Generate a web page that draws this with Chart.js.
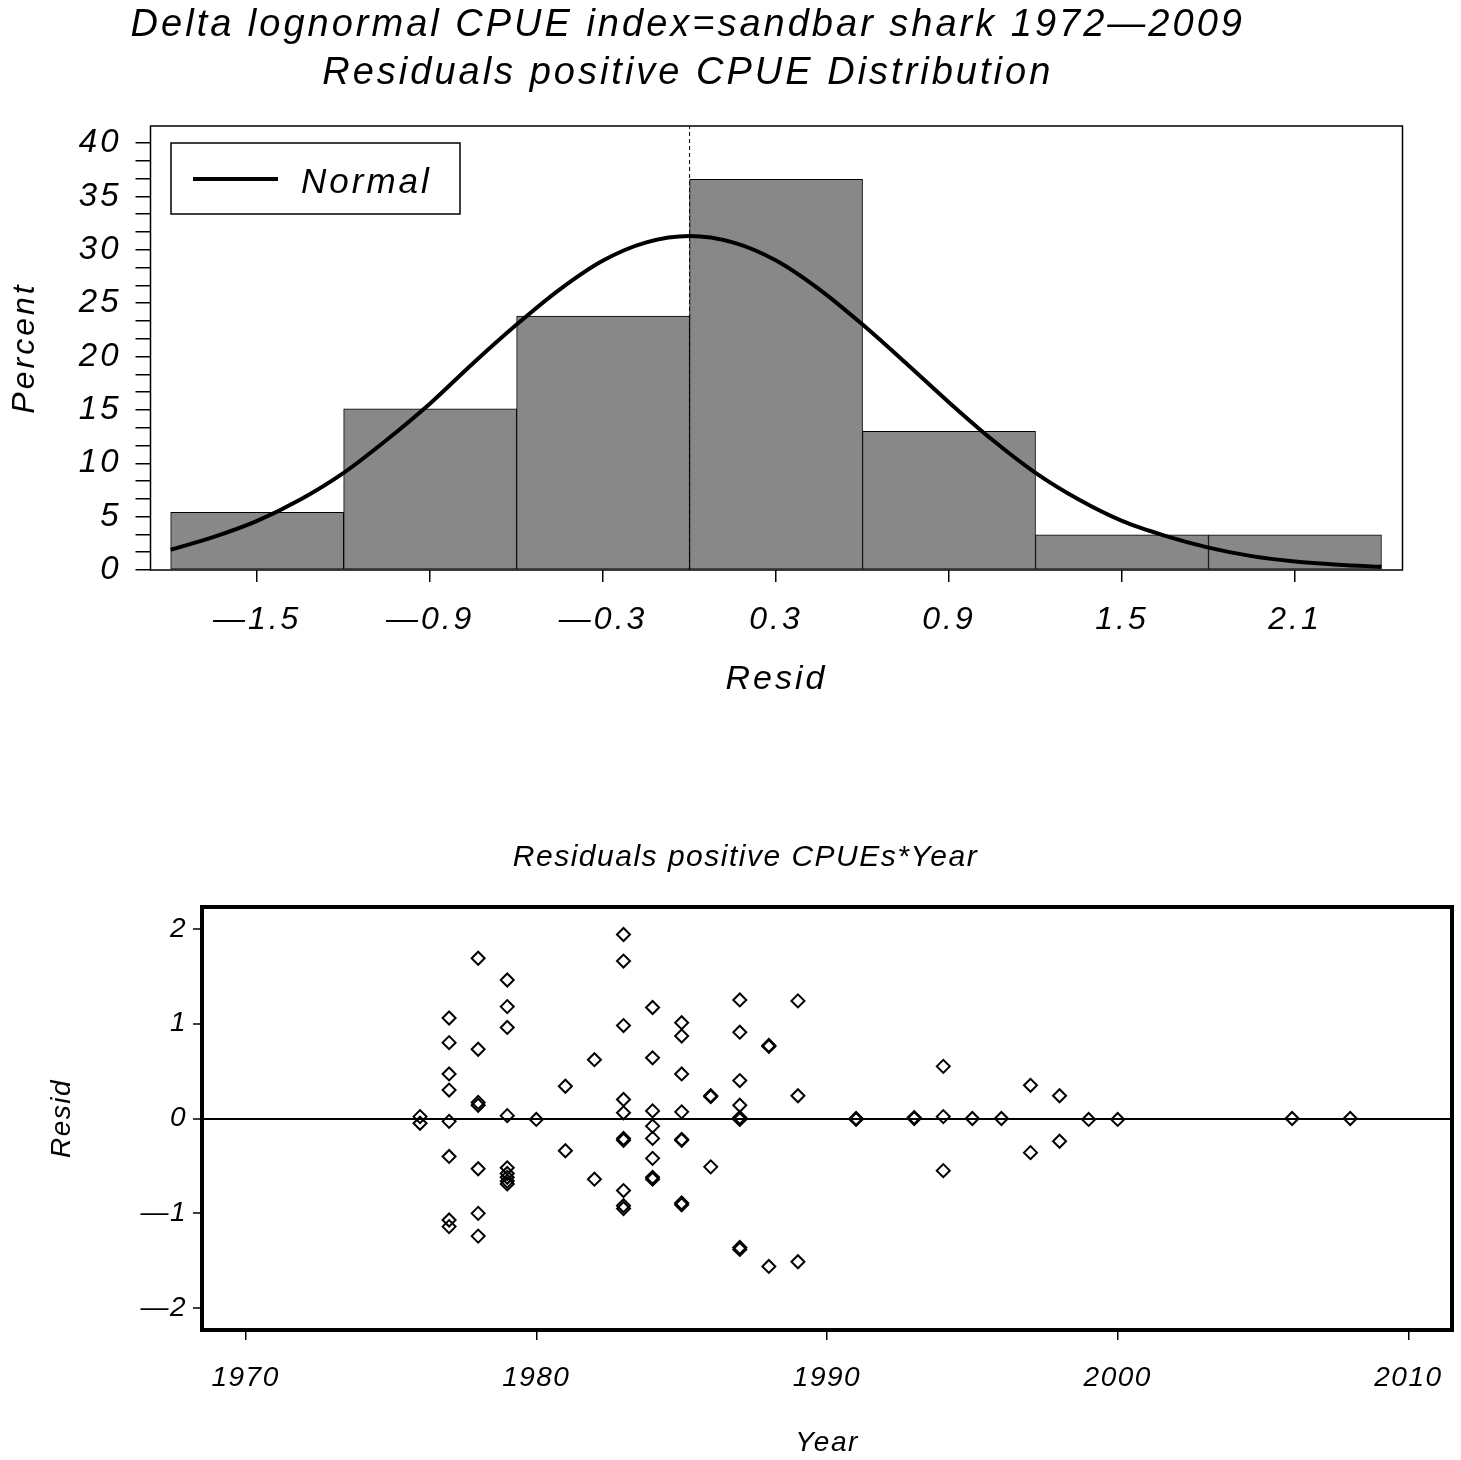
<!DOCTYPE html>
<html>
<head>
<meta charset="utf-8">
<script src="https://cdn.jsdelivr.net/npm/chart.js@4.4.1/dist/chart.umd.min.js"></script>
<style>
  html, body { margin: 0; padding: 0; background: #fff; overflow: hidden; }
  #wrap { position: relative; width: 1461px; height: 1460px; overflow: hidden; }
  #hist { position: absolute; left: -27px; top: 0; }
  #resid { position: absolute; left: 0; top: 760px; }
</style>
</head>
<body>
<div id="wrap">
  <canvas id="hist" width="1488" height="740"></canvas>
  <canvas id="resid" width="1461" height="700"></canvas>
</div>
<script>
// histogram of residuals (percent per bin)
const binCenters = [-1.5, -0.9, -0.3, 0.3, 0.9, 1.5, 2.1];
const binPercent = [5.4, 15.1, 23.8, 36.6, 13.0, 3.3, 3.3];
const binTickLabels = ['\u20141.5', '\u20140.9', '\u20140.3', '0.3', '0.9', '1.5', '2.1'];
const pctMajorTicks = [0, 5, 10, 15, 20, 25, 30, 35, 40];

// fitted normal curve
const normalX = [-1.8, -1.65, -1.5, -1.35, -1.2, -1.05, -0.9, -0.75, -0.6, -0.45, -0.3, -0.15, 0,
  0.15, 0.3, 0.45, 0.6, 0.75, 0.9, 1.05, 1.2, 1.35, 1.5, 1.65, 1.8, 1.95, 2.1, 2.25, 2.4];
const normalPct = [1.9, 3.1, 4.6, 6.6, 9.1, 12.2, 15.6, 19.4, 23.0, 26.3, 29.0, 30.7, 31.3,
  30.7, 29.0, 26.3, 23.0, 19.4, 15.7, 12.2, 9.1, 6.6, 4.6, 3.2, 2.1, 1.3, 0.8, 0.5, 0.3];
const refResid = 0;

// residuals by year
const residYear = [
  1976, 1976,
  1977, 1977, 1977, 1977, 1977, 1977, 1977, 1977,
  1978, 1978, 1978, 1978, 1978, 1978, 1978,
  1979, 1979, 1979, 1979, 1979, 1979, 1979, 1979, 1979,
  1980,
  1981, 1981,
  1982, 1982,
  1983, 1983, 1983, 1983, 1983, 1983, 1983, 1983, 1983, 1983,
  1984, 1984, 1984, 1984, 1984, 1984, 1984, 1984,
  1985, 1985, 1985, 1985, 1985, 1985, 1985, 1985,
  1986, 1986, 1986,
  1987, 1987, 1987, 1987, 1987, 1987, 1987, 1987, 1987,
  1988, 1988, 1988,
  1989, 1989, 1989,
  1991, 1991,
  1993, 1993,
  1994, 1994, 1994,
  1995, 1996,
  1997, 1997,
  1998, 1998,
  1999, 2000, 2006, 2008
];
const residValue = [
  0.02, -0.05,
  1.06, 0.80, 0.47, 0.30, -0.03, -0.40, -1.07, -1.14,
  1.69, 0.73, 0.17, 0.14, -0.53, -1.00, -1.24,
  1.46, 1.18, 0.96, 0.03, -0.52, -0.58, -0.62, -0.66, -0.69,
  -0.01,
  0.34, -0.34,
  0.62, -0.64,
  1.94, 1.66, 0.98, 0.20, 0.06, -0.21, -0.23, -0.76, -0.92, -0.95,
  1.17, 0.64, 0.08, -0.08, -0.21, -0.42, -0.62, -0.64,
  1.01, 0.87, 0.47, 0.07, -0.22, -0.23, -0.89, -0.91,
  0.23, 0.24, -0.51,
  1.25, 0.91, 0.40, 0.14, 0.01, -0.01, 0.00, -1.36, -1.38,
  0.77, 0.76, -1.56,
  1.24, 0.24, -1.51,
  0.00, -0.01,
  0.00, 0.01,
  0.55, 0.02, -0.55,
  0.00, 0.00,
  0.35, -0.36,
  0.24, -0.24,
  -0.01, -0.01, 0.00, 0.00
];
const yearTicks = [1970, 1980, 1990, 2000, 2010];
const residTicks = [-2, -1, 0, 1, 2];
const residTickLabels = ['\u20142', '\u20141', '0', '1', '2'];

Chart.defaults.font.family = '"Liberation Sans", Arial, sans-serif';
Chart.defaults.font.style = 'italic';
Chart.defaults.color = '#000';
Chart.defaults.animation = false;

const spacing = px => ({
  id: 'spacing',
  beforeDraw(chart) { chart.ctx.letterSpacing = px + 'px'; }
});

const frame = w => ({
  id: 'frame',
  afterDatasetsDraw(chart) {
    const { ctx, chartArea: a } = chart;
    ctx.save();
    ctx.lineWidth = w;
    ctx.strokeStyle = '#000';
    ctx.strokeRect(a.left, a.top, a.right - a.left, a.bottom - a.top);
    ctx.restore();
  }
});

// the little "Normal" key box in the corner of the histogram
const normalKey = {
  id: 'normalKey',
  afterDatasetsDraw(chart) {
    const { ctx, chartArea: a } = chart;
    const ds = chart.data.datasets[0];
    const x = a.left + 20.5, y = a.top + 17, w = 289, h = 71;
    ctx.save();
    ctx.fillStyle = '#fff';
    ctx.fillRect(x, y, w, h);
    ctx.lineWidth = 1.5;
    ctx.strokeStyle = '#000';
    ctx.strokeRect(x, y, w, h);
    ctx.lineWidth = 4;
    ctx.beginPath();
    ctx.moveTo(x + 22, y + 36);
    ctx.lineTo(x + 107, y + 36);
    ctx.stroke();
    ctx.font = 'italic 35px "Liberation Sans", Arial, sans-serif';
    ctx.fillStyle = '#000';
    ctx.textAlign = 'left';
    ctx.textBaseline = 'middle';
    ctx.fillText(ds.label, x + 130, y + 40);
    ctx.restore();
  }
};

const pctMax = 41.6;

new Chart(document.getElementById('hist'), {
  type: 'bar',
  data: {
    datasets: [
      {
        type: 'line',
        label: 'Normal',
        data: normalX.map((x, i) => ({ x, y: normalPct[i] })),
        borderColor: '#000',
        borderWidth: 4,
        pointRadius: 0,
        cubicInterpolationMode: 'monotone',
        fill: false,
        order: 1
      },
      {
        type: 'bar',
        label: 'Percent',
        data: binCenters.map((x, i) => ({ x, y: binPercent[i] })),
        backgroundColor: '#888888',
        borderColor: '#000',
        borderWidth: 1,
        borderSkipped: false,
        barPercentage: 1,
        categoryPercentage: 1,
        order: 2
      },
      {
        type: 'line',
        label: 'ref',
        data: [{ x: refResid, y: 0 }, { x: refResid, y: pctMax }],
        borderColor: '#000',
        borderWidth: 1,
        borderDash: [4, 3],
        pointRadius: 0,
        order: 3
      }
    ]
  },
  options: {
    responsive: false,
    devicePixelRatio: 1,
    events: [],
    layout: { padding: { left: 0, right: 58.5, top: 0, bottom: 0 } },
    plugins: {
      legend: { display: false },
      tooltip: { enabled: false },
      title: {
        display: true,
        text: ['Delta lognormal CPUE index=sandbar shark 1972\u20142009',
               'Residuals positive CPUE Distribution'],
        font: { size: 38, style: 'italic', weight: 'normal', lineHeight: 48 / 38 },
        padding: { top: 1, bottom: 29 },
        color: '#000'
      }
    },
    scales: {
      x: {
        type: 'linear',
        min: -1.87,
        max: 2.473,
        offset: false,
        border: { display: false },
        grid: { drawOnChartArea: false, offset: false, color: '#000', lineWidth: 1.5, tickLength: 12 },
        afterBuildTicks: s => { s.ticks = binCenters.map(v => ({ value: v })); },
        afterFit: s => { s.height = 170; },
        ticks: {
          autoSkip: false,
          maxRotation: 0,
          padding: 19,
          font: { size: 32 },
          callback: (v, i) => binTickLabels[i]
        },
        title: { display: true, text: 'Resid', font: { size: 34 }, padding: { top: 0, bottom: 40 } }
      },
      y: {
        type: 'linear',
        min: 0,
        max: pctMax,
        bounds: 'data',
        border: { display: false },
        grid: { drawOnChartArea: false, color: '#000', lineWidth: 1.5, tickLength: 15 },
        afterBuildTicks: s => {
          const t = [];
          pctMajorTicks.forEach((v, i) => {
            t.push({ value: v });
            if (i < pctMajorTicks.length - 1) {
              const step = pctMajorTicks[i + 1] - v;
              t.push({ value: v + step / 3 });
              t.push({ value: v + 2 * step / 3 });
            }
          });
          s.ticks = t;
        },
        afterFit: s => { s.width = 177.5; },
        ticks: {
          autoSkip: false,
          padding: 14,
          font: { size: 33 },
          callback: v => pctMajorTicks.includes(v) ? String(v) : ''
        },
        title: { display: true, text: 'Percent', font: { size: 32 }, padding: { top: 33, bottom: 0 } }
      }
    }
  },
  plugins: [spacing(3), frame(1.5), normalKey]
});

new Chart(document.getElementById('resid'), {
  type: 'scatter',
  data: {
    datasets: [{
      label: 'Resid',
      data: residYear.map((x, i) => ({ x, y: residValue[i] })),
      pointStyle: 'rectRot',
      pointRadius: 6.5,
      pointBorderWidth: 2,
      borderWidth: 2,
      borderColor: '#000',
      backgroundColor: 'rgba(0,0,0,0)'
    }]
  },
  options: {
    responsive: false,
    devicePixelRatio: 1,
    events: [],
    layout: { padding: { left: 39, right: 9, top: 0, bottom: 0 } },
    plugins: {
      legend: { display: false },
      tooltip: { enabled: false },
      title: {
        display: true,
        text: 'Residuals positive CPUEs*Year',
        font: { size: 30, style: 'italic', weight: 'normal', lineHeight: 1.2 },
        padding: { top: 80, bottom: 31 },
        color: '#000'
      }
    },
    scales: {
      x: {
        type: 'linear',
        min: 1968.5,
        max: 2011.5,
        border: { display: false },
        grid: { drawOnChartArea: false, color: '#000', lineWidth: 1.5, tickLength: 10 },
        afterBuildTicks: s => { s.ticks = yearTicks.map(v => ({ value: v })); },
        afterFit: s => { s.height = 130; },
        ticks: { autoSkip: false, maxRotation: 0, padding: 21, font: { size: 28 }, callback: v => String(v) },
        title: { display: true, text: 'Year', font: { size: 28 }, padding: { top: 0, bottom: 0 } }
      },
      y: {
        type: 'linear',
        min: -2.23,
        max: 2.23,
        bounds: 'data',
        border: { display: false },
        grid: {
          drawOnChartArea: true,
          color: c => (c.tick && c.tick.value === 0 ? '#000' : 'rgba(0,0,0,0)'),
          lineWidth: 2,
          tickColor: '#000',
          tickWidth: 1.5,
          tickLength: 9
        },
        afterBuildTicks: s => { s.ticks = residTicks.map(v => ({ value: v })); },
        afterFit: s => { s.width = 163; },
        ticks: { autoSkip: false, padding: 6, font: { size: 28 }, callback: (v, i) => residTickLabels[i] },
        title: { display: true, text: 'Resid', font: { size: 28 }, padding: { top: 6, bottom: 0 } }
      }
    }
  },
  plugins: [spacing(1.5), frame(4)]
});
</script>
</body>
</html>
